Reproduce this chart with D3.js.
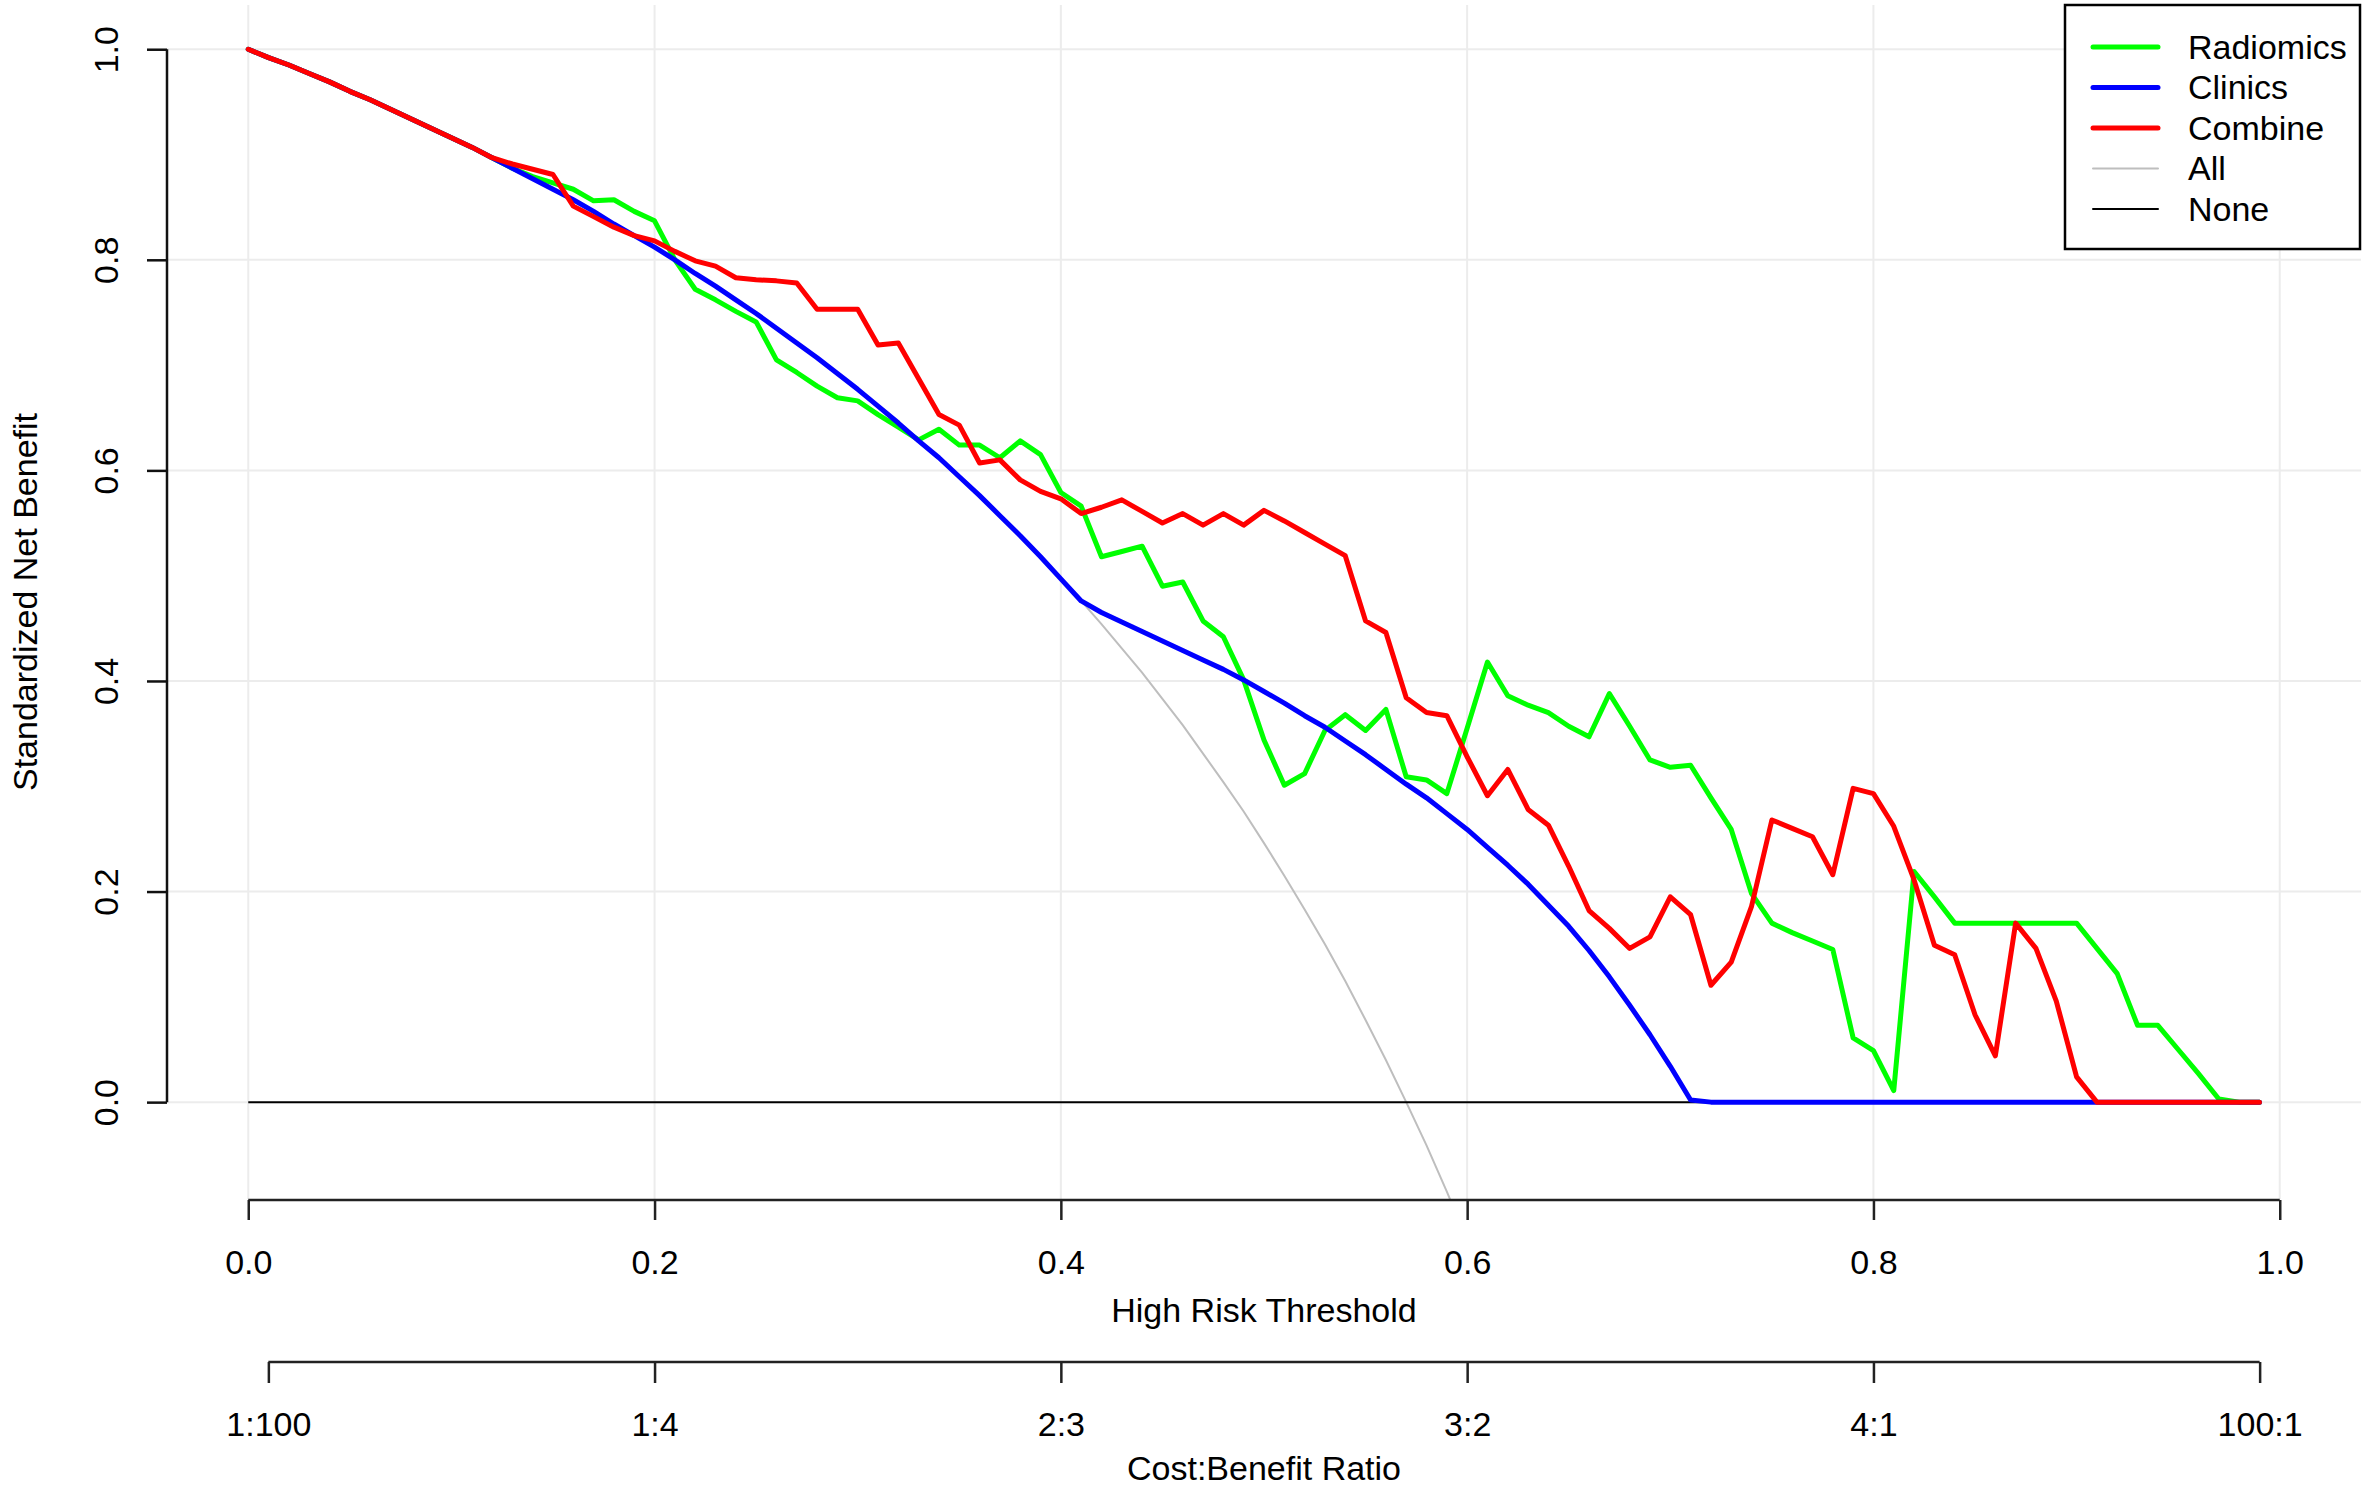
<!DOCTYPE html>
<html>
<head>
<meta charset="utf-8">
<script src="https://cdn.jsdelivr.net/npm/d3@7"></script>
<style>
  body { margin: 0; background: #fff; }
  svg text { font-family: "Liberation Sans", Arial, Helvetica, sans-serif; fill: #000; }
</style>
</head>
<body>
<svg id="chart" width="2362" height="1493"></svg>
<script>
// thresholds 0.00 .. 0.99 (step 0.01)
var thresholds = d3.range(100).map(function(i){ return i / 100 })

var radiomics = [
  1.000, 0.992, 0.985, 0.977, 0.969, 0.960, 0.952, 0.943, 0.934, 0.925,
  0.916, 0.907, 0.897, 0.887, 0.879, 0.873, 0.867, 0.856, 0.857, 0.846,
  0.837, 0.800, 0.772, 0.762, 0.751, 0.741, 0.705, 0.693, 0.680, 0.669,
  0.666, 0.653, 0.641, 0.629, 0.639, 0.624, 0.624, 0.612, 0.628, 0.615,
  0.579, 0.566, 0.518, 0.523, 0.528, 0.490, 0.494, 0.457, 0.442, 0.401,
  0.344, 0.301, 0.312, 0.353, 0.368, 0.353, 0.373, 0.309, 0.306, 0.293,
  0.355, 0.418, 0.386, 0.377, 0.370, 0.357, 0.347, 0.388, 0.357, 0.325,
  0.318, 0.320, 0.289, 0.259, 0.198, 0.170, 0.161, 0.153, 0.145, 0.061,
  0.049, 0.011, 0.219, 0.195, 0.170, 0.170, 0.170, 0.170, 0.170, 0.170,
  0.170, 0.146, 0.122, 0.073, 0.073, 0.050, 0.027, 0.003, 0.000, 0.000
]

var clinics = [
  1.000, 0.992, 0.985, 0.977, 0.969, 0.960, 0.952, 0.943, 0.934, 0.925,
  0.916, 0.907, 0.897, 0.887, 0.877, 0.867, 0.857, 0.846, 0.834, 0.823,
  0.812, 0.800, 0.787, 0.775, 0.762, 0.749, 0.735, 0.721, 0.707, 0.692,
  0.677, 0.661, 0.645, 0.628, 0.612, 0.594, 0.576, 0.557, 0.538, 0.518,
  0.497, 0.476, 0.465, 0.456, 0.447, 0.438, 0.429, 0.420, 0.411, 0.401,
  0.390, 0.379, 0.367, 0.356, 0.343, 0.330, 0.316, 0.302, 0.289, 0.274,
  0.259, 0.242, 0.225, 0.207, 0.187, 0.167, 0.144, 0.119, 0.092, 0.064,
  0.034, 0.002, 0.000, 0.000, 0.000, 0.000, 0.000, 0.000, 0.000, 0.000,
  0.000, 0.000, 0.000, 0.000, 0.000, 0.000, 0.000, 0.000, 0.000, 0.000,
  0.000, 0.000, 0.000, 0.000, 0.000, 0.000, 0.000, 0.000, 0.000, 0.000
]

var combine = [
  1.000, 0.992, 0.985, 0.977, 0.969, 0.960, 0.952, 0.943, 0.934, 0.925,
  0.916, 0.907, 0.897, 0.891, 0.886, 0.881, 0.851, 0.841, 0.831, 0.823,
  0.818, 0.808, 0.799, 0.794, 0.783, 0.781, 0.780, 0.778, 0.753, 0.753,
  0.753, 0.719, 0.721, 0.687, 0.653, 0.643, 0.607, 0.610, 0.591, 0.580,
  0.573, 0.559, 0.565, 0.572, 0.561, 0.550, 0.559, 0.548, 0.559, 0.548,
  0.562, 0.552, 0.541, 0.530, 0.519, 0.457, 0.446, 0.384, 0.370, 0.367,
  0.328, 0.291, 0.316, 0.278, 0.263, 0.224, 0.182, 0.165, 0.146, 0.157,
  0.195, 0.178, 0.111, 0.133, 0.186, 0.268, 0.260, 0.252, 0.216, 0.298,
  0.293, 0.262, 0.211, 0.149, 0.140, 0.083, 0.044, 0.170, 0.146, 0.096,
  0.024, 0.000, 0.000, 0.000, 0.000, 0.000, 0.000, 0.000, 0.000, 0.000
]

// treat-all curve, read up to where it leaves the plot
var treatAll = [
  1.000, 0.992, 0.985, 0.977, 0.969, 0.960, 0.952, 0.943, 0.934, 0.925,
  0.916, 0.907, 0.897, 0.887, 0.877, 0.867, 0.857, 0.846, 0.834, 0.823,
  0.812, 0.800, 0.787, 0.775, 0.762, 0.749, 0.735, 0.721, 0.707, 0.692,
  0.677, 0.661, 0.645, 0.628, 0.612, 0.594, 0.576, 0.557, 0.538, 0.518,
  0.497, 0.476, 0.454, 0.431, 0.408, 0.383, 0.358, 0.331, 0.304, 0.276,
  0.246, 0.215, 0.183, 0.150, 0.115, 0.078, 0.040, 0.000, -0.041, -0.085,
  -0.131
]

var xTicks = [0, 0.2, 0.4, 0.6, 0.8, 1.0]
var yTicks = [0, 0.2, 0.4, 0.6, 0.8, 1.0]
var cbTicks = [0.0099, 0.2, 0.4, 0.6, 0.8, 0.9901]
var cbLabels = ["1:100", "1:4", "2:3", "3:2", "4:1", "100:1"]

var legendNames = ["Radiomics", "Clinics", "Combine", "All", "None"]
var legendColors = ["#00ff00", "#0000ff", "#ff0000", "#bebebe", "#000000"]
var legendWidths = [5, 5, 5, 2, 2]

var svg = d3.select("#chart"),
  fontSize = 34,
  plot = {left: 167, right: 2361, top: 5, bottom: 1199}

var x = d3.scaleLinear().domain([-0.04, 1.04]).range([plot.left, plot.right]),
  y = d3.scaleLinear().domain([-0.092, 1.042]).range([plot.bottom, plot.top])

svg.append("defs").append("clipPath").attr("id", "clip")
  .append("rect")
  .attr("x", plot.left).attr("y", plot.top)
  .attr("width", plot.right - plot.left).attr("height", plot.bottom - plot.top)

// grid
var grid = svg.append("g")
grid.selectAll(".vgrid").data(xTicks).enter().append("line")
  .attr("x1", d => x(d)).attr("x2", d => x(d))
  .attr("y1", plot.top).attr("y2", plot.bottom)
  .attr("stroke", "#ececec").attr("stroke-width", 2)
grid.selectAll(".hgrid").data(yTicks).enter().append("line")
  .attr("x1", plot.left).attr("x2", plot.right)
  .attr("y1", d => y(d)).attr("y2", d => y(d))
  .attr("stroke", "#ececec").attr("stroke-width", 2)

// curves
var lines = svg.append("g").attr("clip-path", "url(#clip)")
var line = d3.line()
  .x(function(d, i){ return x(thresholds[i]) })
  .y(function(d){ return y(d) })

lines.append("path").datum(treatAll)
  .attr("d", line)
  .attr("fill", "none").attr("stroke", "#bebebe").attr("stroke-width", 2)

lines.append("line")
  .attr("x1", x(thresholds[0])).attr("x2", x(thresholds[thresholds.length - 1]))
  .attr("y1", y(0)).attr("y2", y(0))
  .attr("stroke", "#000").attr("stroke-width", 2)

var series = [radiomics, clinics, combine]
series.forEach(function(s, i){
  lines.append("path").datum(s)
    .attr("d", line)
    .attr("fill", "none")
    .attr("stroke", legendColors[i])
    .attr("stroke-width", 5)
    .attr("stroke-linejoin", "round")
    .attr("stroke-linecap", "round")
})

// y axis
var yAxis = svg.append("g")
  .attr("transform", "translate(" + plot.left + ",0)")
  .call(d3.axisLeft(y).tickValues(yTicks).tickSize(20).tickFormat(d3.format(".1f")))
yAxis.select(".domain").remove()
yAxis.append("line")
  .attr("x1", 0).attr("x2", 0).attr("y1", y(0)).attr("y2", y(1))
  .attr("stroke", "#111").attr("stroke-width", 2.5)
yAxis.selectAll(".tick line").attr("stroke", "#111").attr("stroke-width", 2.5)
yAxis.selectAll(".tick text")
  .attr("transform", "rotate(-90)")
  .attr("x", 0).attr("y", -49).attr("dy", null)
  .attr("text-anchor", "middle")
  .attr("font-size", fontSize)

// threshold axis
var xAxis = svg.append("g")
  .attr("transform", "translate(0,1200)")
  .call(d3.axisBottom(x).tickValues(xTicks).tickSize(20).tickFormat(d3.format(".1f")))
xAxis.select(".domain").remove()
xAxis.append("line")
  .attr("x1", x(xTicks[0])).attr("x2", x(xTicks[xTicks.length - 1]))
  .attr("stroke", "#222").attr("stroke-width", 2.5)
xAxis.selectAll(".tick line").attr("stroke", "#222").attr("stroke-width", 2.5)
xAxis.selectAll(".tick text")
  .attr("y", 74).attr("dy", null)
  .attr("font-size", fontSize)

// cost:benefit axis
var cbAxis = svg.append("g")
  .attr("transform", "translate(0,1362)")
  .call(d3.axisBottom(x).tickValues(cbTicks).tickSize(21)
    .tickFormat(function(d, i){ return cbLabels[i] }))
cbAxis.select(".domain").remove()
cbAxis.append("line")
  .attr("x1", x(cbTicks[0])).attr("x2", x(cbTicks[cbTicks.length - 1]))
  .attr("stroke", "#222").attr("stroke-width", 2.5)
cbAxis.selectAll(".tick line").attr("stroke", "#222").attr("stroke-width", 2.5)
cbAxis.selectAll(".tick text")
  .attr("y", 74).attr("dy", null)
  .attr("font-size", fontSize)

// axis titles
var midX = (plot.left + plot.right) / 2
svg.append("text").attr("x", midX).attr("y", 1322)
  .attr("text-anchor", "middle").attr("font-size", fontSize)
  .text("High Risk Threshold")
svg.append("text").attr("x", midX).attr("y", 1480)
  .attr("text-anchor", "middle").attr("font-size", fontSize)
  .text("Cost:Benefit Ratio")
svg.append("text")
  .attr("transform", "translate(37," + ((plot.top + plot.bottom) / 2) + ") rotate(-90)")
  .attr("text-anchor", "middle").attr("font-size", fontSize)
  .text("Standardized Net Benefit")

// legend
var legend = svg.append("g")
legend.append("rect")
  .attr("x", 2065).attr("y", 5).attr("width", 295).attr("height", 244)
  .attr("fill", "#fff").attr("stroke", "#000").attr("stroke-width", 2.5)
var rows = legend.selectAll(".row").data(legendNames).enter().append("g")
  .attr("transform", function(d, i){ return "translate(0," + (47 + i * 40.5) + ")" })
rows.append("line")
  .attr("x1", 2093).attr("x2", 2158).attr("y1", 0).attr("y2", 0)
  .attr("stroke", function(d, i){ return legendColors[i] })
  .attr("stroke-width", function(d, i){ return legendWidths[i] })
  .attr("stroke-linecap", "round")
rows.append("text")
  .attr("x", 2188).attr("y", 11.5)
  .attr("font-size", fontSize)
  .text(function(d){ return d })
</script>
</body>
</html>
